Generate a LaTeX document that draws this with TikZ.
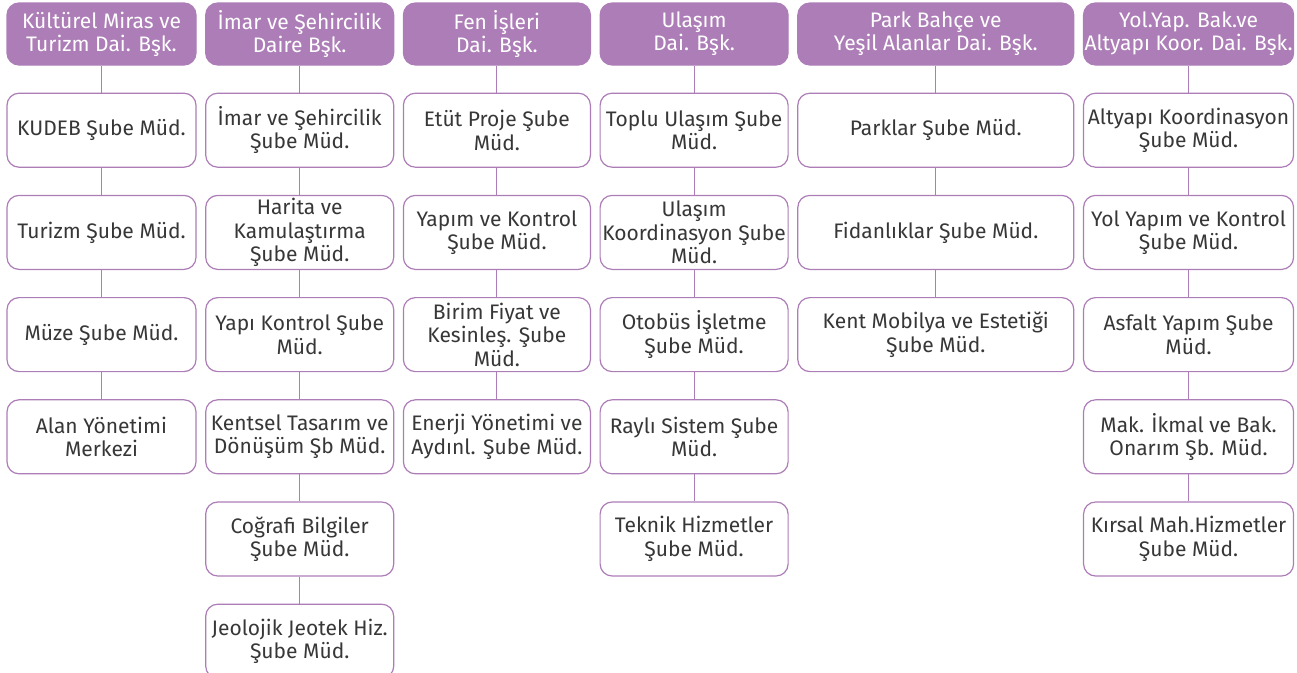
\documentclass[tikz,border=0pt]{standalone}
\usepackage{fontspec}
\setmainfont{Fira Sans}
\usetikzlibrary{positioning}
\definecolor{mor}{RGB}{173,125,183}
\definecolor{yazi}{RGB}{55,55,55}
\tikzset{
  daire/.style={draw=mor, fill=mor, line width=1.2pt, rounded corners=12pt,
    minimum height=62pt, inner sep=1pt, align=center, text=white,
    font=\fontsize{21}{23}\selectfont},
  sube/.style={draw=mor, fill=white, line width=1.2pt, rounded corners=12pt,
    minimum height=74pt, inner sep=1pt, align=center, text=yazi,
    font=\fontsize{21}{23.5}\selectfont},
  bag/.style={draw=mor, line width=1pt}
}
\begin{document}
\begin{tikzpicture}[x=1pt, y=1pt, node distance=27pt and 8.5pt]
    \useasboundingbox (0,0) rectangle (1297,-672);
    % daire baskanliklari
    \node [daire, minimum width=189pt] at (101.5,-34) (k_0) {Kültürel Miras ve\\Turizm Dai. Bşk.};
    \node [daire, minimum width=188pt] [right=of k_0] (i_0) {İmar ve Şehircilik\\Daire Bşk.};
    \node [daire, minimum width=187pt] [right=of i_0] (f_0) {Fen İşleri\\Dai. Bşk.};
    \node [daire, minimum width=188pt] [right=of f_0] (u_0) {Ulaşım\\Dai. Bşk.};
    \node [daire, minimum width=276pt] [right=of u_0] (p_0) {Park Bahçe ve\\Yeşil Alanlar Dai. Bşk.};
    \node [daire, minimum width=210pt] [right=of p_0] (y_0) {Yol.Yap. Bak.ve\\Altyapı Koor. Dai. Bşk.};
    % kulturel miras
    \node [sube, minimum width=189pt] [below=of k_0] (k_1) {KUDEB Şube Müd.};
    \node [sube, minimum width=189pt] [below=of k_1] (k_2) {Turizm Şube Müd.};
    \node [sube, minimum width=189pt] [below=of k_2] (k_3) {Müze Şube Müd.};
    \node [sube, minimum width=189pt] [below=of k_3] (k_4) {Alan Yönetimi\\Merkezi};
    % imar
    \node [sube, minimum width=188pt] [below=of i_0] (i_1) {İmar ve Şehircilik\\Şube Müd.};
    \node [sube, minimum width=188pt] [below=of i_1] (i_2) {Harita ve\\Kamulaştırma\\Şube Müd.};
    \node [sube, minimum width=188pt] [below=of i_2] (i_3) {Yapı Kontrol Şube\\Müd.};
    \node [sube, minimum width=188pt] [below=of i_3] (i_4) {Kentsel Tasarım ve\\Dönüşüm Şb Müd.};
    \node [sube, minimum width=188pt] [below=of i_4] (i_5) {Coğrafi Bilgiler\\Şube Müd.};
    \node [sube, minimum width=188pt] [below=of i_5] (i_6) {Jeolojik Jeotek Hiz.\\Şube Müd.};
    % fen isleri
    \node [sube, minimum width=187pt] [below=of f_0] (f_1) {Etüt Proje Şube\\Müd.};
    \node [sube, minimum width=187pt] [below=of f_1] (f_2) {Yapım ve Kontrol\\Şube Müd.};
    \node [sube, minimum width=187pt] [below=of f_2] (f_3) {Birim Fiyat ve\\Kesinleş. Şube\\Müd.};
    \node [sube, minimum width=187pt] [below=of f_3] (f_4) {Enerji Yönetimi ve\\Aydınl. Şube Müd.};
    % ulasim
    \node [sube, minimum width=188pt] [below=of u_0] (u_1) {Toplu Ulaşım Şube\\Müd.};
    \node [sube, minimum width=188pt] [below=of u_1] (u_2) {Ulaşım\\Koordinasyon Şube\\Müd.};
    \node [sube, minimum width=188pt] [below=of u_2] (u_3) {Otobüs İşletme\\Şube Müd.};
    \node [sube, minimum width=188pt] [below=of u_3] (u_4) {Raylı Sistem Şube\\Müd.};
    \node [sube, minimum width=188pt] [below=of u_4] (u_5) {Teknik Hizmetler\\Şube Müd.};
    % park bahce
    \node [sube, minimum width=276pt] [below=of p_0] (p_1) {Parklar Şube Müd.};
    \node [sube, minimum width=276pt] [below=of p_1] (p_2) {Fidanlıklar Şube Müd.};
    \node [sube, minimum width=276pt] [below=of p_2] (p_3) {Kent Mobilya ve Estetiği\\Şube Müd.};
    % yol yapim
    \node [sube, minimum width=210pt] [below=of y_0] (y_1) {Altyapı Koordinasyon\\Şube Müd.};
    \node [sube, minimum width=210pt] [below=of y_1] (y_2) {Yol Yapım ve Kontrol\\Şube Müd.};
    \node [sube, minimum width=210pt] [below=of y_2] (y_3) {Asfalt Yapım Şube\\Müd.};
    \node [sube, minimum width=210pt] [below=of y_3] (y_4) {Mak. İkmal ve Bak.\\Onarım Şb. Müd.};
    \node [sube, minimum width=210pt] [below=of y_4] (y_5) {Kırsal Mah.Hizmetler\\Şube Müd.};
      \path[bag]
      (k_0) edge (k_1) (k_1) edge (k_2) (k_2) edge (k_3) (k_3) edge (k_4)
      (i_0) edge (i_1) (i_1) edge (i_2) (i_2) edge (i_3) (i_3) edge (i_4)
      (i_4) edge (i_5) (i_5) edge (i_6)
      (f_0) edge (f_1) (f_1) edge (f_2) (f_2) edge (f_3) (f_3) edge (f_4)
      (u_0) edge (u_1) (u_1) edge (u_2) (u_2) edge (u_3) (u_3) edge (u_4)
      (u_4) edge (u_5)
      (p_0) edge (p_1) (p_1) edge (p_2) (p_2) edge (p_3)
      (y_0) edge (y_1) (y_1) edge (y_2) (y_2) edge (y_3) (y_3) edge (y_4)
      (y_4) edge (y_5)
      ;
  \end{tikzpicture}
\end{document}
